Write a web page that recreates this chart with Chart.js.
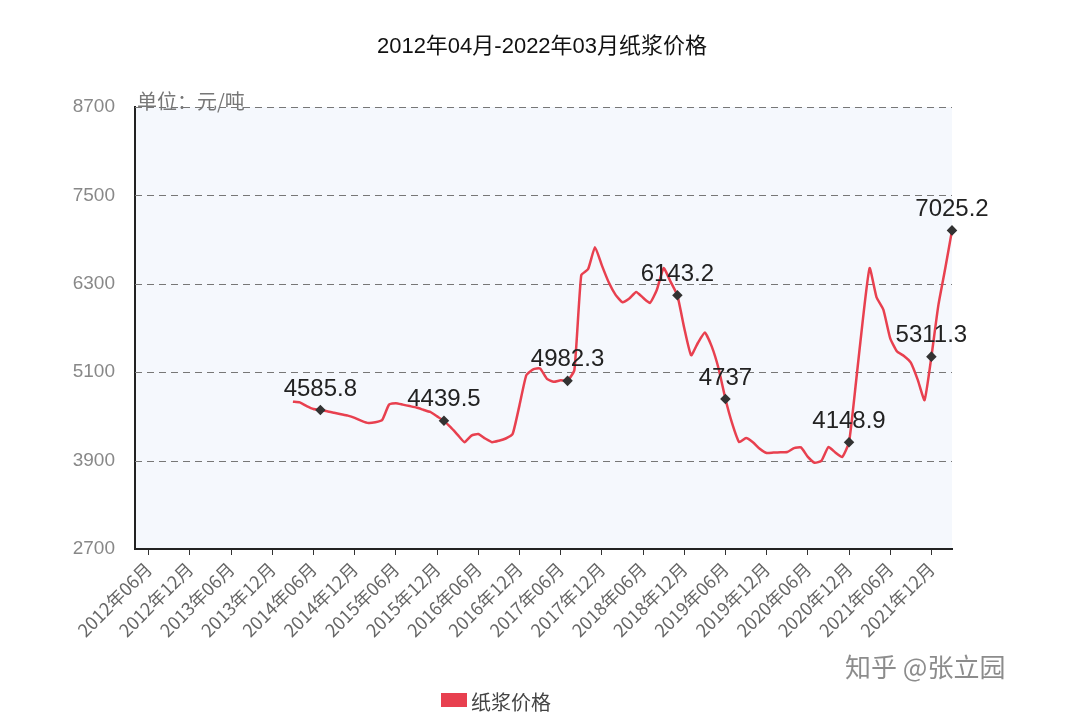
<!DOCTYPE html>
<html>
<head>
<meta charset="utf-8">
<script src="https://cdn.jsdelivr.net/npm/chart.js@4/dist/chart.umd.min.js"></script>
<style>
  html, body { margin: 0; padding: 0; background: #fff; }
  #wrap { width: 1076px; height: 713px; }
</style>
</head>
<body>
<div id="wrap"><canvas id="pulp"></canvas></div>
<script>
// months 2012-04 .. 2022-03
const months = [];
for (let y = 2012; y <= 2022; y++) {
    for (let m = 1; m <= 12; m++) {
        if ((y === 2012 && m < 4) || (y === 2022 && m > 3)) continue;
        months.push(y + '年' + (m < 10 ? '0' + m : m) + '月');
    }
}
const startMonth = '2014年03月';
// 元/吨, 2014-03 .. 2022-03
const prices = [
    4700, 4690, 4640, 4600, 4585.8, 4570, 4550, 4530, 4510, 4480, 4440, 4410,
    4420, 4450, 4660, 4680, 4660, 4640, 4620, 4590, 4560, 4500, 4439.5, 4350,
    4250, 4150, 4240, 4260, 4200, 4150, 4170, 4200, 4260, 4650, 5060, 5140,
    5150, 5010, 4970, 4990, 4982.3, 5130, 6418, 6500, 6798, 6550, 6320, 6150,
    6050, 6100, 6190, 6110, 6040, 6215, 6513, 6330, 6143.2, 5700, 5330, 5500,
    5640, 5450, 5150, 4737, 4400, 4152, 4206, 4150, 4060, 4003, 4010, 4015,
    4016, 4070, 4080, 3950, 3870, 3900, 4084, 4010, 3948, 4148.9, 4950, 5800,
    6513, 6120, 5950, 5560, 5380, 5320, 5230, 5000, 4722, 5311.3, 6000, 6500,
    7025.2
];
const markedMonths = ['2014年07月', '2016年01月', '2017年07月', '2018年11月',
    '2019年06月', '2020年12月', '2021年12月', '2022年03月'];
const yTicks = [2700, 3900, 5100, 6300, 7500, 8700];

const offset = months.indexOf(startMonth);
const series = months.map((m, i) => (i < offset ? null : prices[i - offset]));
const isMarked = i => markedMonths.includes(months[i]);
const isLabelMonth = i => /(06|12)月$/.test(months[i]);

const decor = {
    id: 'decor',
    beforeDraw(chart) {
        const { ctx, chartArea: a } = chart;
        ctx.save();
        ctx.fillStyle = '#f5f8fd';
        ctx.fillRect(a.left, a.top, a.right - a.left, a.bottom - a.top);
        ctx.restore();
    },
    beforeDatasetsDraw(chart) {
        const { ctx, chartArea: a, scales: { y } } = chart;
        ctx.save();
        ctx.strokeStyle = '#777';
        ctx.setLineDash([7, 5]);
        ctx.lineWidth = 1;
        yTicks.slice(1).forEach(v => {
            const py = Math.round(y.getPixelForValue(v)) + 0.5;
            ctx.beginPath();
            ctx.moveTo(a.left, py);
            ctx.lineTo(a.right, py);
            ctx.stroke();
        });
        ctx.restore();
    },
    afterDraw(chart) {
        const { ctx, chartArea: a } = chart;
        const meta = chart.getDatasetMeta(0);
        ctx.save();
        ctx.fillStyle = '#111';
        ctx.font = '22px "Liberation Sans", "Noto Sans CJK SC"';
        ctx.textAlign = 'center';
        ctx.textBaseline = 'middle';
        ctx.fillText('2012年04月-2022年03月纸浆价格', 542, 47);
        ctx.fillStyle = '#777';
        ctx.font = '20px "Noto Sans CJK SC"';
        ctx.textAlign = 'left';
        ctx.fillText('单位：元/吨', a.left + 2, a.top - 6);
        ctx.fillStyle = '#222';
        ctx.font = '24px "Liberation Sans", Arial';
        ctx.textAlign = 'center';
        meta.data.forEach((p, i) => {
            if (series[i] !== null && isMarked(i)) ctx.fillText(String(series[i]), p.x, p.y - 21);
        });
        // legend
        ctx.fillStyle = '#e8404f';
        ctx.fillRect(441, 693, 26, 14);
        ctx.fillStyle = '#444';
        ctx.font = '20px "Noto Sans CJK SC"';
        ctx.textAlign = 'left';
        ctx.fillText('纸浆价格', 471, 702);
        // watermark
        ctx.fillStyle = 'rgba(120,120,120,0.85)';
        ctx.font = '26px "Noto Sans CJK SC"';
        ctx.fillText('知乎 @张立园', 845, 667);
        ctx.restore();
    }
};

new Chart(document.getElementById('pulp'), {
    type: 'line',
    data: {
        labels: months,
        datasets: [{
            label: '纸浆价格',
            data: series,
            borderColor: '#e8404f',
            borderWidth: 2.5,
            tension: 0.15,
            pointStyle: 'rectRot',
            pointRadius: ctx => (isMarked(ctx.dataIndex) ? 3.5 : 0),
            pointBackgroundColor: '#333',
            pointBorderColor: '#333'
        }]
    },
    options: {
        responsive: true,
        maintainAspectRatio: false,
        animation: false,
        layout: { padding: { top: 107, right: 124, left: 0, bottom: 0 } },
        plugins: { legend: { display: false }, tooltip: { enabled: false } },
        scales: {
            x: {
                offset: false,
                afterFit: s => { s.height = 164; },
                border: { color: '#222', width: 2 },
                grid: {
                    drawOnChartArea: false,
                    tickLength: 6,
                    color: ctx => (ctx.index !== undefined && isLabelMonth(ctx.index) ? '#333' : 'rgba(0,0,0,0)')
                },
                ticks: {
                    autoSkip: false,
                    minRotation: 45,
                    maxRotation: 45,
                    color: '#666',
                    font: { size: 18, family: '"Noto Sans CJK SC"' },
                    callback: (v, i) => (isLabelMonth(i) ? months[i] : '')
                }
            },
            y: {
                min: 2700,
                max: 8700,
                afterFit: s => { s.width = 135; },
                afterBuildTicks: s => { s.ticks = yTicks.map(v => ({ value: v })); },
                border: { color: '#222', width: 2 },
                grid: { display: false },
                ticks: {
                    color: '#888',
                    padding: 12,
                    font: { size: 19, family: '"Liberation Sans", Arial' },
                    callback: v => String(v)
                }
            }
        }
    },
    plugins: [decor]
});
</script>
</body>
</html>
